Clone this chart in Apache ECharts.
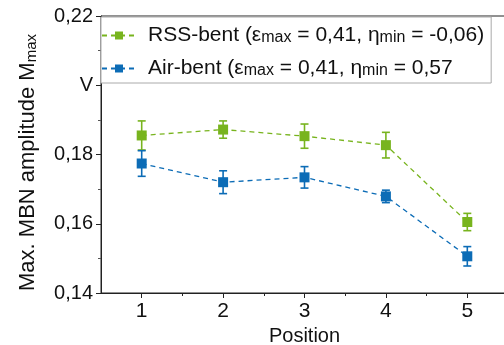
<!DOCTYPE html>
<html><head><meta charset="utf-8">
<script src="https://cdn.jsdelivr.net/npm/echarts@6/dist/echarts.min.js"></script>
<style>html,body{margin:0;padding:0;background:#fff}#c{width:504px;height:345px}</style>
</head><body><div id="c"></div>
<script>
const positions = [1, 2, 3, 4, 5];
const rss = [0.1855, 0.1872, 0.1853, 0.1827, 0.1605];
const rssErr = [0.0042, 0.0025, 0.0035, 0.0037, 0.0025];
const air = [0.1774, 0.1720, 0.1734, 0.1679, 0.1506];
const airErr = [0.0037, 0.0033, 0.0031, 0.0018, 0.0028];
const yTicks = [0.14, 0.16, 0.18, 0.20, 0.22];
const yTickLabels = ['0,14', '0,16', '0,18', 'V', '0,22'];
const xTickLabels = ['1', '2', '3', '4', '5'];
const minorX = [1.5, 2.5, 3.5, 4.5];
const names = ['RSS-bent', 'Air-bent'];
const legendText = {
  'RSS-bent': 'RSS-bent ({g|ε}{s|max} = 0,41, {g|η}{s|min} = -0,06)',
  'Air-bent': 'Air-bent ({g|ε}{s|max} = 0,41, {g|η}{s|min} = 0,57'
};
const GREEN = '#78b41e', BLUE = '#0c6cb6';
const FONT = 'Liberation Sans, Arial, sans-serif';

function errData(vals, errs) {
  return positions.map((p, i) => [p, vals[i] - errs[i], vals[i] + errs[i]]);
}
function errSeries(vals, errs, color) {
  return {
    type: 'custom', xAxisIndex: 0, yAxisIndex: 0, silent: true, z: 3,
    data: errData(vals, errs),
    renderItem: function (params, api) {
      const x = api.value(0);
      const lo = api.coord([x, api.value(1)]);
      const hi = api.coord([x, api.value(2)]);
      const w = 4;
      const st = { stroke: color, lineWidth: 1.6 };
      return { type: 'group', children: [
        { type: 'line', shape: { x1: lo[0], y1: lo[1], x2: hi[0], y2: hi[1] }, style: st },
        { type: 'line', shape: { x1: lo[0] - w, y1: lo[1], x2: lo[0] + w, y2: lo[1] }, style: st },
        { type: 'line', shape: { x1: hi[0] - w, y1: hi[1], x2: hi[0] + w, y2: hi[1] }, style: st }
      ]};
    }
  };
}
const chart = echarts.init(document.getElementById('c'), null, { renderer: 'canvas' });
chart.setOption({
  animation: false,
  textStyle: { fontFamily: FONT },
  grid: { left: 101, top: 16, width: 407, height: 277, outerBoundsMode: 'none', containLabel: false,
    show: true, borderColor: '#222', borderWidth: 1, backgroundColor: 'transparent' },
  xAxis: [{
    type: 'value', min: 0.5, max: 5.5,
    name: 'Position', nameLocation: 'middle', nameGap: 31,
    nameTextStyle: { fontSize: 20, color: '#111', fontFamily: FONT },
    axisLine: { show: true, lineStyle: { color: '#222', width: 1 } },
    axisTick: { show: true, inside: false, length: 5, customValues: positions, lineStyle: { color: '#222' } },
    axisLabel: { show: true, customValues: positions, fontSize: 21, color: '#111', margin: 8,
      formatter: v => xTickLabels[positions.indexOf(v)] },
    splitLine: { show: false }
  }, {
    type: 'value', min: 0.5, max: 5.5, position: 'bottom', gridIndex: 0,
    axisLine: { show: false },
    axisTick: { show: true, inside: false, length: 3, customValues: minorX, lineStyle: { color: '#222' } },
    axisLabel: { show: false },
    splitLine: { show: false }
  }],
  yAxis: {
    type: 'value', min: 0.14, max: 0.22, interval: 0.02,
    name: 'Max. MBN amplitude M{s|max}', nameLocation: 'middle', nameRotate: 90, nameGap: 62,
    nameTextStyle: { fontSize: 22, color: '#111', fontFamily: FONT, padding: [0, 16, 0, 0],
      rich: { s: { fontSize: 15, verticalAlign: 'bottom', lineHeight: 15, color: '#111', fontFamily: FONT } } },
    axisLine: { show: true, lineStyle: { color: '#222', width: 1 } },
    axisTick: { show: true, inside: false, length: 5, lineStyle: { color: '#222' } },
    minorTick: { show: true, splitNumber: 2, length: 3, lineStyle: { color: '#555' } },
    axisLabel: { fontSize: 20, color: '#111', margin: 8,
      formatter: v => { const i = yTicks.findIndex(t => Math.abs(t - v) < 1e-9); return i >= 0 ? yTickLabels[i] : ''; } },
    splitLine: { show: false }
  },
  legend: {
    data: names, orient: 'vertical', left: 101, top: 17,
    padding: [8, 7, 4, 0], itemGap: 12,
    itemWidth: 34, itemHeight: 10,
    backgroundColor: '#fff', borderColor: '#aaa', borderWidth: 1,
    textStyle: { fontSize: 21, color: '#111', fontFamily: FONT, padding: [0, 0, 0, 7],
      rich: {
        g: { fontSize: 21, color: '#111', fontFamily: FONT },
        s: { fontSize: 16, verticalAlign: 'bottom', lineHeight: 15, color: '#111', fontFamily: FONT }
      } },
    formatter: n => legendText[n]
  },
  series: [
    errSeries(rss, rssErr, GREEN),
    errSeries(air, airErr, BLUE),
    { name: names[0], type: 'line', z: 4, data: positions.map((p, i) => [p, rss[i]]),
      symbol: 'rect', symbolSize: 10, itemStyle: { color: GREEN },
      lineStyle: { color: GREEN, width: 1.3, type: [5, 4] } },
    { name: names[1], type: 'line', z: 4, data: positions.map((p, i) => [p, air[i]]),
      symbol: 'rect', symbolSize: 10, itemStyle: { color: BLUE },
      lineStyle: { color: BLUE, width: 1.3, type: [5, 4] } }
  ]
});
</script></body></html>
